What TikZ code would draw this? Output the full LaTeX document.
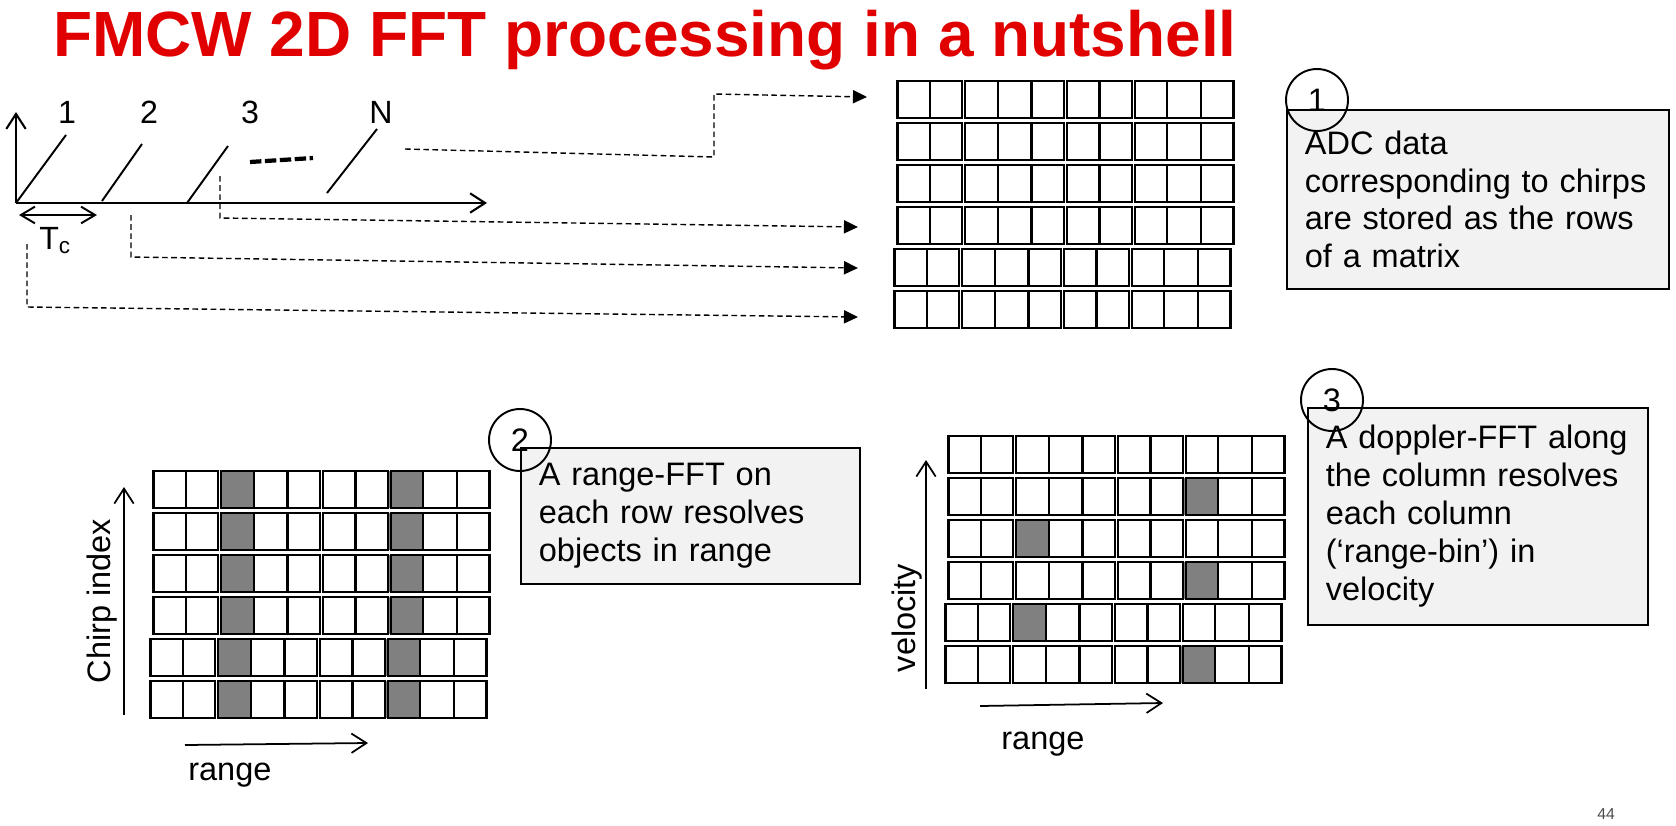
\documentclass[tikz,border=0pt]{standalone}
\usepackage{fontspec}
\setmainfont{Liberation Sans}
\usetikzlibrary{arrows.meta,positioning}
\definecolor{slidered}{RGB}{224,0,0}
\definecolor{notegray}{RGB}{242,242,242}
\definecolor{hitgray}{RGB}{128,128,128}
\newcommand{\bodyfont}{\fontsize{18.5}{21.6}\selectfont}
\newcommand{\titlefont}{\fontsize{36.4}{40}\selectfont\bfseries}
\newcommand{\labelfont}{\fontsize{18.3}{20}\selectfont}
% one matrix: six rows of 2+3+2+3 bins, top left at (#1,#2)
\newcommand{\datarows}[2]{\foreach \r in {0,...,5}{
    \foreach \a/\b in {0/2,2/5,5/7,7/10}
      \draw[binbox] ({#1-3*(\r>3)+\a*33.9+1.5},{#2+42*\r}) rectangle ({#1-3*(\r>3)+\b*33.9-1.5},{#2+42*\r+37});
    \foreach \k in {1,3,4,6,8,9}
      \draw[binbox] ({#1-3*(\r>3)+\k*33.9},{#2+42*\r}) -- ++(0,37);}}
\newcommand{\hitcells}[3]{\foreach \r/\c in {#3}
    \fill[hitgray] ({#1-3*(\r>3)+\c*33.9},{#2+42*\r}) rectangle ++(33.9,37);}

\begin{document}
\begin{tikzpicture}[x=0.02cm,y=-0.02cm,
    binbox/.style={line width=1.3pt},
    axisline/.style={line width=1.2pt,-{Straight Barb[length=8.5pt,width=11pt]}},
    feedline/.style={line width=0.8pt,dash pattern=on 3.2pt off 2pt,-{Triangle[length=8pt,width=7.5pt]}},
    notebox/.style={draw,line width=1pt,fill=notegray,anchor=north west,align=left,inner xsep=0.36cm,inner ysep=0pt,font=\bodyfont},
    numcirc/.style={draw,circle,line width=1.1pt,minimum size=1.24cm,inner sep=0pt,font=\bodyfont}]
  \useasboundingbox (0,0) rectangle (1676,825);
  \node[anchor=base west,inner sep=0,font=\titlefont,text=slidered] (title) at (53,56) {FMCW 2D FFT processing in a nutshell};

  % chirps
  \coordinate (o) at (16,203);
  \coordinate (ytip) at (16,112);
  \coordinate (xtip) at (487,203);
  \draw[axisline] (o) -- (ytip);
  \draw[axisline] (o) -- (xtip);
  \draw[line width=1.1pt] (o) -- (66,135) (102,201) -- (142,144) (187,203) -- (228,146) (327,193) -- (377,129);
  \draw[line width=2.4pt,dash pattern=on 6.5pt off 2pt] (250,162) -- (313,158);
  \node[font=\labelfont] (n1) at (67,112) {1};
  \node[font=\labelfont] (n2) at (149,112) {2};
  \node[font=\labelfont] (n3) at (250,112) {3};
  \node[font=\labelfont] (nN) at (381,112) {N};
  \coordinate (tcl) at (19,215);
  \coordinate (tcr) at (97,215);
  \draw[line width=1.1pt,{Straight Barb[length=8pt,width=9.5pt]}-{Straight Barb[length=8pt,width=9.5pt]}] (tcl) -- (tcr);
  \node[anchor=base west,inner sep=0,font=\labelfont] (tc) at (39,249) {T\textsubscript{c}};

  % ADC matrix
  \datarows{896}{81}
  \coordinate (fN) at (405,149);
  \coordinate (f3) at (220,176);
  \coordinate (f2) at (131,215);
  \coordinate (f1) at (27,244);
  \coordinate (r1) at (867,97);
  \coordinate (r4) at (858,227);
  \coordinate (r5) at (858,268);
  \coordinate (r6) at (858,317);
  \draw[feedline] (fN) -- (714,157) -- (714,94) -- (r1);
  \draw[feedline] (f3) -- (220,218) -- (r4);
  \draw[feedline] (f2) -- (131,257) -- (r5);
  \draw[feedline] (f1) -- (27,307) -- (r6);
  \node[notebox,text width=6.92cm,minimum width=7.64cm,minimum height=3.58cm] (box1) at (1286,109)
    {ADC data\\corresponding to chirps\\are stored as the rows\\of a matrix};
  \node[numcirc] (num1) at (1317,100) {1};

  % range FFT
  \hitcells{152}{471}{0/2,1/2,2/2,3/2,4/2,5/2,0/7,1/7,2/7,3/7,4/7,5/7}
  \datarows{152}{471}
  \coordinate (ci0) at (124,715);
  \coordinate (ci1) at (124,487);
  \draw[axisline,line width=1pt] (ci0) -- (ci1);
  \node[rotate=90,font=\bodyfont] (chirpidx) at (102,601) {Chirp index};
  \coordinate (rg0) at (185,745);
  \coordinate (rg1) at (368,743);
  \draw[axisline,line width=1pt] (rg0) -- (rg1);
  \node[anchor=base west,inner sep=0,font=\bodyfont] (rng2) at (188,780) {range};
  \node[notebox,text width=6.06cm,minimum width=6.78cm,minimum height=2.72cm] (box2) at (520,447)
    {A range-FFT on\\each row resolves\\objects in range};
  \node[numcirc] (num2) at (520,440) {2};

  % doppler FFT
  \hitcells{947}{436}{1/7,2/2,3/7,4/2,5/7}
  \datarows{947}{436}
  \coordinate (v0) at (926,689);
  \coordinate (v1) at (926,460);
  \draw[axisline,line width=1pt] (v0) -- (v1);
  \node[rotate=90,font=\bodyfont] (vel) at (907,618) {velocity};
  \coordinate (rh0) at (980,706);
  \coordinate (rh1) at (1163,703);
  \draw[axisline,line width=1pt] (rh0) -- (rh1);
  \node[anchor=base west,inner sep=0,font=\bodyfont] (rng3) at (1001,749) {range};
  \node[notebox,text width=6.08cm,minimum width=6.8cm,minimum height=4.34cm] (box3) at (1307,407)
    {A doppler-FFT along\\the column resolves\\each column\\(‘range-bin’) in\\velocity};
  \node[numcirc] (num3) at (1332,400) {3};

  \node[anchor=north west,inner sep=0,font=\fontsize{9}{10}\selectfont,text=black!70] (page) at (1597,808) {44};
\end{tikzpicture}
\end{document}
